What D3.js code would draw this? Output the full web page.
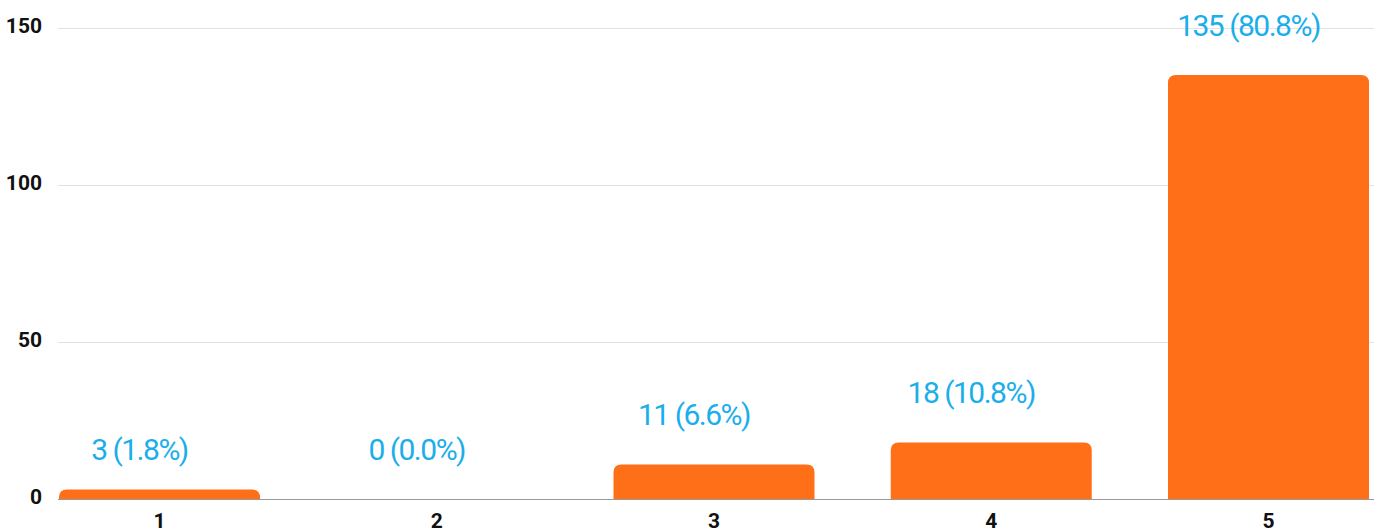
<!DOCTYPE html>
<html>
<head>
<meta charset="utf-8">
<script src="https://cdn.jsdelivr.net/npm/d3@7"></script>
<style>
  body { margin: 0; background: #fff; }
  svg { display: block; }
</style>
</head>
<body>
<svg id="chart" width="1374" height="529"></svg>
<script>
var categories = ["1", "2", "3", "4", "5"];
var counts = [3, 0, 11, 18, 135];
var percents = ["1.8%", "0.0%", "6.6%", "10.8%", "80.8%"];
var yTicks = [0, 50, 100, 150];

var svg = d3.select("#chart");
var gridLeft = 58, gridRight = 1374;

var x = d3.scaleBand()
    .domain(categories)
    .range([59, 1369])
    .paddingInner(0.275)
    .paddingOuter(0);

var y = d3.scaleLinear()
    .domain([0, 150])
    .range([499, 28]);

// grid lines
svg.append("g").selectAll("line")
    .data(yTicks.filter(function(d) { return d > 0; }))
  .enter().append("line")
    .attr("x1", gridLeft).attr("x2", gridRight)
    .attr("y1", function(d) { return y(d) + 0.5; })
    .attr("y2", function(d) { return y(d) + 0.5; })
    .attr("stroke", "#e3e3e3")
    .attr("stroke-width", 1);

// y tick labels
svg.append("g").selectAll("text")
    .data(yTicks)
  .enter().append("text")
    .attr("x", 42)
    .attr("y", function(d) { return y(d) + 4.5; })
    .attr("text-anchor", "end")
    .attr("font-family", "Roboto, sans-serif")
    .attr("font-weight", "bold")
    .attr("font-size", 21)
    .attr("fill", "#111")
    .text(function(d) { return d; });

// rounded-top bars
var r = 8;
var barPath = function(d, i) {
    var x0 = x(categories[i]), w = x.bandwidth();
    var top = y(d), bottom = y(0);
    var h = bottom - top;
    if (h <= 0) return "";
    var rr = Math.min(r, h, w / 2);
    return "M" + x0 + "," + bottom +
        "V" + (top + rr) +
        "Q" + x0 + "," + top + " " + (x0 + rr) + "," + top +
        "H" + (x0 + w - rr) +
        "Q" + (x0 + w) + "," + top + " " + (x0 + w) + "," + (top + rr) +
        "V" + bottom + "Z";
};

svg.append("g").selectAll("path")
    .data(counts)
  .enter().append("path")
    .attr("d", barPath)
    .attr("fill", "#ff6f17");

// baseline
svg.append("line")
    .attr("x1", gridLeft).attr("x2", gridRight)
    .attr("y1", y(0) + 0.5).attr("y2", y(0) + 0.5)
    .attr("stroke", "#9a9a9a")
    .attr("stroke-width", 1);

// x labels
svg.append("g").selectAll("text")
    .data(categories)
  .enter().append("text")
    .attr("x", function(d) { return x(d) + x.bandwidth() / 2; })
    .attr("y", 528)
    .attr("text-anchor", "middle")
    .attr("font-family", "Roboto, sans-serif")
    .attr("font-weight", "bold")
    .attr("font-size", 21)
    .attr("fill", "#111")
    .text(function(d) { return d; });

// value labels (sit a little left of the bar centre, as in the source;
// very short bars get their label at the zero-bar height)
svg.append("g").selectAll("text")
    .data(counts)
  .enter().append("text")
    .attr("x", function(d, i) { return x(categories[i]) + x.bandwidth() / 2 - 20; })
    .attr("y", function(d) { return y(d < 5 ? 0 : d) - 39; })
    .attr("text-anchor", "middle")
    .attr("font-family", "Roboto, sans-serif")
    .attr("font-size", 30)
    .attr("letter-spacing", -1.5)
    .attr("fill", "#1aaeeb")
    .text(function(d, i) { return d + " (" + percents[i] + ")"; });
</script>
</body>
</html>
